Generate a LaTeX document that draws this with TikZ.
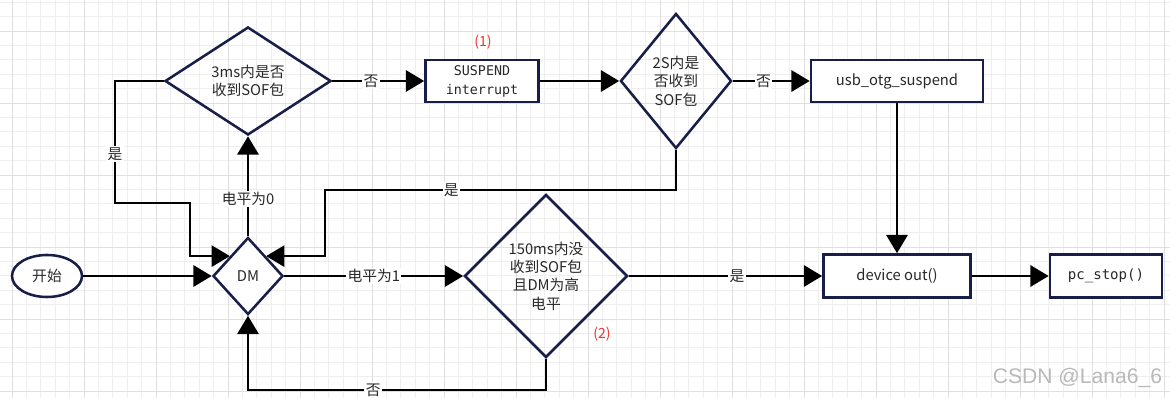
\documentclass[tikz,border=0pt]{standalone}
\usepackage{fontspec}
\setmainfont{Noto Sans CJK SC}
\newfontfamily\codefont{DejaVu Sans Mono}
\newfontfamily\signfont{Liberation Sans}
\usetikzlibrary{shapes.geometric,arrows.meta}
\definecolor{navy}{RGB}{24,30,72}
\colorlet{gridgray}{gray!13}
\colorlet{majorgray}{gray!25}
\definecolor{notered}{RGB}{240,50,50}
\definecolor{txt}{RGB}{40,40,40}

\begin{document}
\begin{tikzpicture}[x=0.025cm, y=-0.025cm,
    every node/.style={font=\fontsize{10.5}{13}\selectfont, text=txt},
    decide/.style={draw=navy, line width=1.8pt, diamond, inner sep=0pt, align=center},
    procbox/.style={draw=navy, line width=1.8pt, rectangle, fill=white, align=center},
    flow/.style={line width=1.9pt, -{Triangle[length=13pt,width=15pt]}},
    tag/.style={fill=white, inner sep=1pt},
    redtag/.style={text=notered, font=\fontsize{10}{12}\selectfont}]
    \useasboundingbox (0,0) rectangle (1170,398);
    \fill[white] (0,0) rectangle (1170,398);
    % grid
    \foreach \gx in {12,26.4,...,1170} \draw[gridgray, line width=0.5pt] (\gx,0) -- (\gx,398);
    \foreach \gy in {2.2,16.6,...,398} \draw[gridgray, line width=0.5pt] (0,\gy) -- (1170,\gy);
    \foreach \gx in {12,84,...,1170} \draw[majorgray, line width=0.6pt] (\gx,0) -- (\gx,398);
    \foreach \gy in {31,103,...,398} \draw[majorgray, line width=0.6pt] (0,\gy) -- (1170,\gy);

    % nodes
    \node[draw=navy, line width=1.8pt, ellipse, fill=white, minimum width=1.75cm, minimum height=1.05cm] (start) at (47,276) {开始};
    \node[decide, fill=white, minimum width=1.75cm, minimum height=1.925cm] (dm) at (248,276) {DM};
    \node[decide, minimum width=4.15cm, minimum height=2.7cm] (q3ms) at (248,81) {3ms内是否\\收到SOF包};
    \node[procbox, minimum width=2.825cm, minimum height=1.05cm, font=\codefont\fontsize{9.5}{13.5}\selectfont] (susp) at (482,81) {SUSPEND\\interrupt};
    \node[decide, minimum width=2.775cm, minimum height=3.375cm] (q2s) at (676,81) {2S内是\\否收到\\SOF包};
    \node[procbox, minimum width=4.3cm, minimum height=1.05cm] (usbsusp) at (897,81) {usb\_otg\_suspend};
    \node[decide, minimum width=4.075cm, minimum height=4.075cm] (q150) at (546,276) {150ms内没\\收到SOF包\\且DM为高\\电平};
    \node[procbox, minimum width=3.675cm, minimum height=1.075cm] (devout) at (897,276) {device out()};
    \node[procbox, minimum width=2.8cm, minimum height=1.075cm, font=\codefont\fontsize{10}{12}\selectfont] (pcstop) at (1106,276) {pc\_stop()};

    \node[redtag] (n1) at (483,42) {(1)};
    \node[redtag] (n2) at (602,334) {(2)};

    % corners of the loops
    \coordinate (yesA) at (115,203);
    \coordinate (yesB) at (190,203);
    \coordinate (backC) at (325,190);
    \coordinate (noD) at (248,390);

    % connectors
    \draw[flow] (start) -- (dm);
    \draw[flow] (dm.north) -- node[tag, pos=0.37]{电平为0} (q3ms.south);
    \draw[flow] (q3ms.east) -- node[tag, pos=0.42]{否} (susp.west);
    \draw[flow] (q3ms.west) -| node[tag, pos=0.8]{是} (yesA) -- (yesB) |- (dm.north west);
    \draw[flow] (susp.east) -- (q2s.west);
    \draw[flow] (q2s.east) -- node[tag, pos=0.4]{否} (usbsusp.west);
    \draw[flow] (q2s.south) |- node[tag, pos=0.82]{是} (backC) |- (dm.north east);
    \draw[flow] (dm.east) -- node[tag]{电平为1} (q150.west);
    \draw[flow] (q150.south) |- node[tag, pos=0.79]{否} (noD) -- (dm.south);
    \draw[flow] (q150.east) -- node[tag, pos=0.56]{是} (devout.west);
    \draw[flow] (usbsusp.south) -- (devout.north);
    \draw[flow] (devout.east) -- (pcstop.west);

    \node[anchor=east, text=gray!55, font=\signfont\fontsize{15}{18}\selectfont] (sign) at (1167,378) {CSDN @Lana6\_6};
\end{tikzpicture}
\end{document}
